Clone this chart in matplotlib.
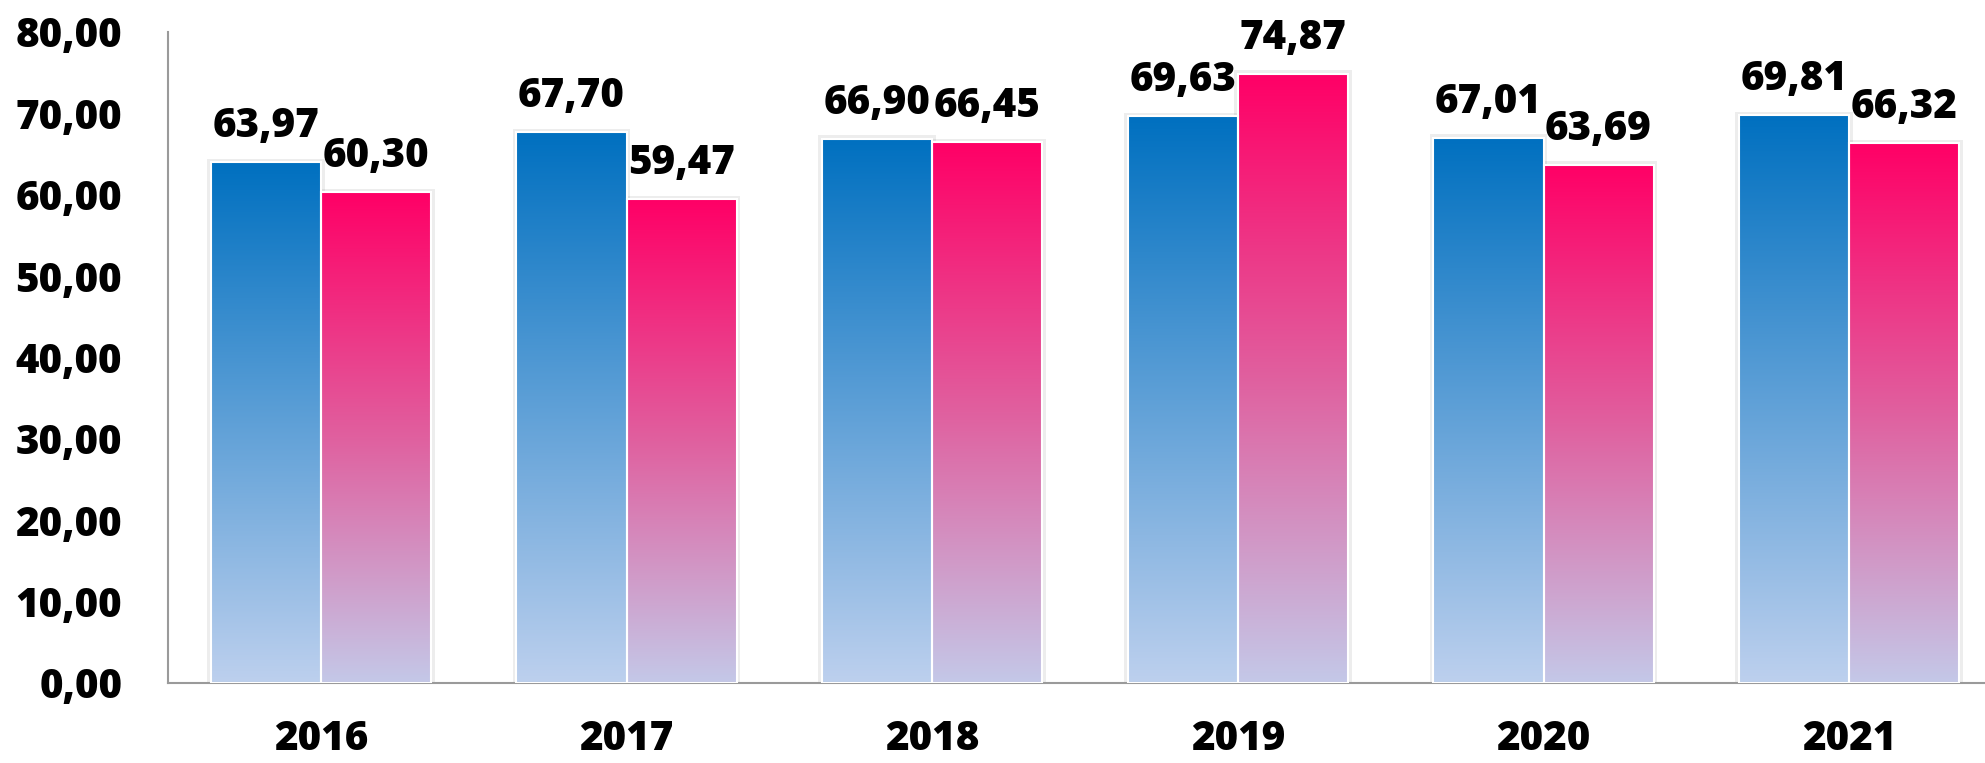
import numpy as np
from matplotlib import pyplot as plt
from matplotlib.colors import LinearSegmentedColormap
from matplotlib.patches import Rectangle

years = ['2016', '2017', '2018', '2019', '2020', '2021']
blue_vals = [63.97, 67.70, 66.90, 69.63, 67.01, 69.81]
pink_vals = [60.30, 59.47, 66.45, 74.87, 63.69, 66.32]

blue_cmap = LinearSegmentedColormap.from_list('b', ['#BDD0EE', '#0070C0'])
pink_cmap = LinearSegmentedColormap.from_list('p', ['#C4C8E8', '#E0609F', '#FF0066'])

plt.rcParams['font.family'] = ['Open Sans', 'DejaVu Sans']
FW = 800
FS = 29

fig = plt.figure(figsize=(19.85, 7.63), dpi=100)
ax = fig.add_axes([168 / 1985, 80 / 763, 1834 / 1985, 651 / 763])

w = 0.36
grad = np.linspace(0, 1, 256).reshape(-1, 1)


def grad_bar(x0, h, cmap):
	# light shadow round the bar
	ax.add_patch(Rectangle((x0 - 0.012, 0), w + 0.024, h + 0.4, facecolor='#000000',
		alpha=0.07, edgecolor='none', zorder=1))
	ax.imshow(grad, extent=[x0, x0 + w, 0, h], origin='lower', cmap=cmap,
		aspect='auto', zorder=2, interpolation='bicubic')
	ax.add_patch(Rectangle((x0, 0), w, h, facecolor='none', edgecolor='white',
		linewidth=1.5, zorder=3))


x = np.arange(len(years))
for i in range(len(years)):
	grad_bar(x[i] - w, blue_vals[i], blue_cmap)
	grad_bar(x[i], pink_vals[i], pink_cmap)
	ax.annotate(f'{blue_vals[i]:.2f}'.replace('.', ','), (x[i] - w / 2, blue_vals[i]),
		xytext=(0, 18), textcoords='offset points', ha='center', va='baseline',
		fontsize=FS, fontweight=FW, zorder=5)
	ax.annotate(f'{pink_vals[i]:.2f}'.replace('.', ','), (x[i] + w / 2, pink_vals[i]),
		xytext=(0, 18), textcoords='offset points', ha='center', va='baseline',
		fontsize=FS, fontweight=FW, zorder=5)

ax.set_xlim(-0.5, len(years) - 0.5)
ax.set_ylim(0, 80)
ax.set_yticks(np.arange(0, 81, 10))
ax.set_yticklabels([f'{v:.2f}'.replace('.', ',') for v in np.arange(0, 81, 10)])
ax.set_xticks(x)
ax.set_xticklabels(years)
ax.tick_params(axis='both', length=0, labelsize=FS)
ax.tick_params(axis='y', pad=33)
ax.tick_params(axis='x', pad=48)
for lab in ax.get_yticklabels():
	lab.set_fontweight(FW)
for lab in ax.get_xticklabels():
	lab.set_fontweight(FW)
	lab.set_verticalalignment('baseline')

for s in ['top', 'right']:
	ax.spines[s].set_visible(False)
for s in ['left', 'bottom']:
	ax.spines[s].set_color('#9A9A9A')
	ax.spines[s].set_linewidth(1.5)

fig.savefig('out.png', dpi=100)
